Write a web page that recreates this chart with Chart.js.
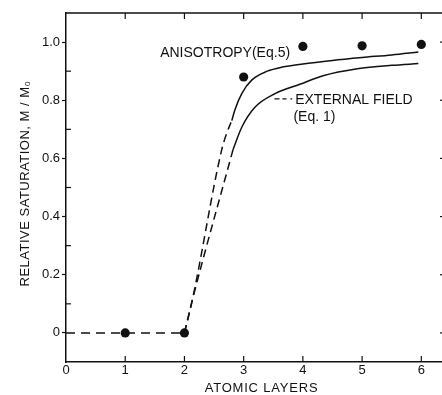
<!DOCTYPE html>
<html><head><meta charset="utf-8">
<script src="https://cdn.jsdelivr.net/npm/chart.js@4/dist/chart.umd.min.js"></script>
<style>html,body{margin:0;padding:0;background:#fff;overflow:hidden;}canvas{display:block;}</style>
</head><body>
<canvas id="c" width="448" height="395"></canvas>
<script>
// ---- data ----
const layers   = [1, 2, 3, 4, 5, 6];
const measured = [0, 0, 0.88, 0.985, 0.987, 0.992];

const baseX = [0, 2];
const baseY = [0, 0];

const anisoDashX = [2, 2.13, 2.63, 2.72, 2.80];
const anisoDashY = [0, 0.11, 0.63, 0.69, 0.73];
const anisoX = [2.80, 2.85, 2.97, 3.14, 3.40, 3.65, 4.00, 4.50, 5.00, 5.50, 5.95];
const anisoY = [0.73, 0.766, 0.824, 0.870, 0.900, 0.914, 0.925, 0.937, 0.947, 0.956, 0.966];

const fieldDashX = [2, 2.13, 2.82];
const fieldDashY = [0, 0.11, 0.63];
const fieldX = [2.82, 2.97, 3.19, 3.53, 3.95, 4.34, 4.92, 5.50, 5.95];
const fieldY = [0.63, 0.708, 0.776, 0.823, 0.855, 0.884, 0.908, 0.920, 0.926];

const leaderX = [3.52, 3.82];
const leaderY = [0.805, 0.805];

const xTicks = [0, 1, 2, 3, 4, 5, 6];
const yTicks = [0, 0.2, 0.4, 0.6, 0.8, 1.0];
const yMinor = [0.1, 0.3, 0.5, 0.7, 0.9];

const xTitle = 'ATOMIC LAYERS';
const yTitle = 'RELATIVE SATURATION, M / M\u2080';
const notes = [
  {text: 'ANISOTROPY(Eq.5)', x: 1.59, y: 0.962},
  {text: 'EXTERNAL FIELD', x: 3.87, y: 0.800},
  {text: '(Eq. 1)', x: 3.84, y: 0.742}
];

// ---- helpers ----
const pts = (xs, ys) => xs.map((x, i) => ({x, y: ys[i]}));
const INK = '#111';
const FONT = '"Liberation Sans", Arial, sans-serif';

const line = (xs, ys, dash) => ({
  type: 'line', data: pts(xs, ys), borderColor: INK, borderWidth: 1.5,
  borderDash: dash || [], pointRadius: 0, cubicInterpolationMode: 'monotone',
  fill: false
});

const deco = {
  id: 'deco',
  afterDraw(chart) {
    const ctx = chart.ctx, xs = chart.scales.x, ys = chart.scales.y, a = chart.chartArea;
    ctx.save();
    ctx.strokeStyle = INK; ctx.fillStyle = INK; ctx.lineWidth = 1.5;
    // top frame
    ctx.beginPath(); ctx.moveTo(a.left, a.top); ctx.lineTo(a.right, a.top); ctx.stroke();
    // inward ticks
    ctx.lineWidth = 1.2;
    xTicks.slice(1).forEach(v => {
      const px = xs.getPixelForValue(v);
      ctx.beginPath(); ctx.moveTo(px, a.bottom); ctx.lineTo(px, a.bottom - 6); ctx.stroke();
      ctx.beginPath(); ctx.moveTo(px, a.top); ctx.lineTo(px, a.top + 6); ctx.stroke();
    });
    yMinor.forEach(v => {
      const py = ys.getPixelForValue(v);
      ctx.beginPath(); ctx.moveTo(a.left, py); ctx.lineTo(a.left + 5, py); ctx.stroke();
    });
    yTicks.forEach(v => {
      const py = ys.getPixelForValue(v);
      ctx.beginPath(); ctx.moveTo(a.right, py); ctx.lineTo(a.right - 5, py); ctx.stroke();
    });
    // annotations
    ctx.font = '14px ' + FONT; ctx.textBaseline = 'middle'; ctx.textAlign = 'left';
    notes.forEach(n => ctx.fillText(n.text, xs.getPixelForValue(n.x), ys.getPixelForValue(n.y)));
    // axis titles
    ctx.font = '13px ' + FONT; ctx.textAlign = 'center';
    ctx.letterSpacing = '0.8px';
    ctx.fillText(xTitle, (a.left + a.right) / 2 + 6, 388);
    ctx.letterSpacing = '0.5px';
    ctx.translate(25, (a.top + a.bottom) / 2 - 4);
    ctx.rotate(-Math.PI / 2);
    ctx.fillText(yTitle, 0, 0);
    ctx.restore();
  }
};

new Chart(document.getElementById('c'), {
  type: 'scatter',
  data: {
    datasets: [
      line(baseX, baseY, [9, 6]),
      line(anisoDashX, anisoDashY, [8, 5]),
      line(anisoX, anisoY),
      line(fieldDashX, fieldDashY, [8, 5]),
      line(fieldX, fieldY),
      Object.assign(line(leaderX, leaderY, [5, 3, 4, 4, 2, 40]), {borderWidth: 1.2}),
      {type: 'scatter', data: pts(layers, measured), pointRadius: 4.6,
       pointBackgroundColor: INK, pointBorderColor: INK, pointBorderWidth: 0, showLine: false}
    ]
  },
  options: {
    responsive: false, animation: false,
    layout: {padding: {left: 0, top: 13, right: 3, bottom: 0}, autoPadding: false},
    plugins: {legend: {display: false}, tooltip: {enabled: false}},
    scales: {
      x: {
        type: 'linear', min: 0, max: 6.4,
        afterBuildTicks: s => { s.ticks = xTicks.map(v => ({value: v})); },
        afterFit: s => { s.height = 33; },
        grid: {drawOnChartArea: false, drawTicks: false},
        border: {display: true, color: INK, width: 1.5},
        ticks: {color: INK, font: {family: FONT, size: 13}, padding: 1,
                callback: v => String(v), maxRotation: 0, autoSkip: false}
      },
      y: {
        type: 'linear', min: -0.1, max: 1.1,
        afterBuildTicks: s => { s.ticks = yTicks.map(v => ({value: v})); },
        afterFit: s => { s.width = 66; },
        grid: {drawOnChartArea: false, drawTicks: true, tickLength: 4, tickWidth: 1.2, tickColor: INK},
        border: {display: true, color: INK, width: 1.5},
        ticks: {color: INK, font: {family: FONT, size: 13}, padding: 2,
                callback: v => (v === 0 ? '0' : v.toFixed(1)), autoSkip: false}
      }
    }
  },
  plugins: [deco]
});
</script>
</body></html>
